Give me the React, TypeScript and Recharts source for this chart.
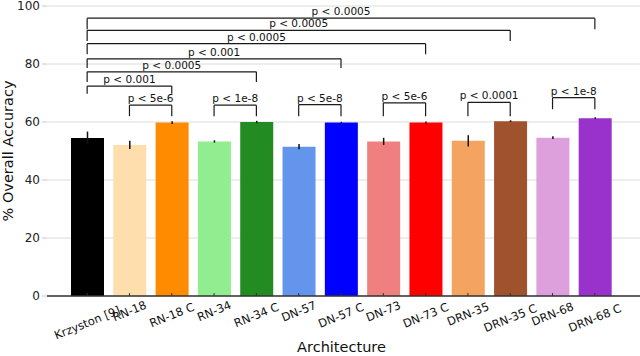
import React from "react";
import { BarChart, Bar, XAxis, YAxis, CartesianGrid, Cell, ErrorBar, ReferenceLine } from "recharts";

const architectures = [
  "Krzyston [9]", "RN-18", "RN-18 C", "RN-34", "RN-34 C", "DN-57", "DN-57 C",
  "DN-73", "DN-73 C", "DRN-35", "DRN-35 C", "DRN-68", "DRN-68 C",
];
const accuracy = [54.5, 52.1, 59.8, 53.3, 60.0, 51.5, 59.8, 53.3, 59.8, 53.5, 60.3, 54.6, 61.3];
const accuracyErr = [2.2, 1.4, 0.5, 0.4, 0.4, 0.9, 0.3, 1.25, 0.4, 1.95, 0.3, 0.5, 0.3];
const barColors = [
  "#000000", "#FFDEAD", "#FF8C00", "#90EE90", "#228B22", "#6495ED", "#0000FF",
  "#F08080", "#FF0000", "#F4A460", "#A0522D", "#DDA0DD", "#9932CC",
];
const yTicks = [0, 20, 40, 60, 80, 100];

// significance brackets: from / to / line level / leg foot / text
const bracketFrom = [
  "Krzyston [9]", "Krzyston [9]", "Krzyston [9]", "Krzyston [9]", "Krzyston [9]", "Krzyston [9]",
  "RN-18", "RN-34", "DN-57", "DN-73", "DRN-35", "DRN-68",
];
const bracketTo = [
  "DRN-68 C", "DRN-35 C", "DN-73 C", "DN-57 C", "RN-34 C", "RN-18 C",
  "RN-18 C", "RN-34 C", "DN-57 C", "DN-73 C", "DRN-35 C", "DRN-68 C",
];
const bracketLevel = [95.8, 91.6, 87.0, 81.8, 77.3, 72.4, 65.8, 65.8, 66.0, 66.6, 66.8, 68.4];
const bracketFoot = [92.0, 87.9, 83.4, 78.6, 73.8, 69.7, 62.0, 62.0, 62.0, 62.0, 62.0, 64.4];
const bracketText = [
  "p < 0.0005", "p < 0.0005", "p < 0.0005", "p < 0.001", "p < 0.0005", "p < 0.001",
  "p < 5e-6", "p < 1e-8", "p < 5e-8", "p < 5e-6", "p < 0.0001", "p < 1e-8",
];

const data = architectures.map((name, i) => ({ name, acc: accuracy[i], err: accuracyErr[i] }));

// rough DejaVu Sans advance widths (em)
const widths: Record<string, number> = {
  A: 0.684, C: 0.698, D: 0.77, K: 0.656, N: 0.748, R: 0.695,
  a: 0.613, c: 0.55, e: 0.615, n: 0.634, o: 0.612, r: 0.411, s: 0.521, t: 0.392, y: 0.592, z: 0.525,
  "-": 0.361, " ": 0.318, "[": 0.39, "]": 0.39,
};
const textWidth = (s: string, size: number) =>
  s.split("").reduce((w, ch) => w + (widths[ch] ?? (/[0-9]/.test(ch) ? 0.636 : 0.6)), 0) * size;

function ArchTick({ x, y, payload }: any) {
  const fs = 11.5;
  const cy = y + 3 + 0.34 * textWidth(payload.value, fs);
  return (
    <g>
      <line x1={x} y1={y} x2={x} y2={y - 3} stroke="#333" />
      <text x={x} y={cy} dy="0.35em" textAnchor="middle" fontSize={fs} fill="#111"
        transform={`rotate(-22, ${x}, ${cy})`}>
        {payload.value}
      </text>
    </g>
  );
}

function YTitle({ viewBox }: any) {
  const cx = viewBox.x + 7.5;
  const cy = viewBox.y + viewBox.height / 2;
  return (
    <text x={cx} y={cy} dy="0.35em" textAnchor="middle" fontSize={14.5} fill="#111"
      transform={`rotate(-90, ${cx}, ${cy})`}>
      % Overall Accuracy
    </text>
  );
}

function XTitle({ viewBox }: any) {
  return (
    <text x={viewBox.x + viewBox.width / 2 - 2} y={viewBox.y + viewBox.height - 4}
      textAnchor="middle" fontSize={14.5} fill="#111">
      Architecture
    </text>
  );
}

export default function App() {
  const lineStyle = { stroke: "#1a1a1a", strokeWidth: 1.2 };
  return (
    <div style={{ position: "absolute", left: 0, top: 0, fontFamily: "DejaVu Sans", background: "#fff" }}>
      <BarChart width={640} height={356} data={data} margin={{ top: 6, right: 0, bottom: 0, left: 0 }}>
        <CartesianGrid vertical={false} stroke="#dcdcdc" />
        <XAxis dataKey="name" interval={0} height={60} tickLine={false} tickSize={0} tickMargin={0}
          axisLine={{ stroke: "#333", strokeWidth: 1.3 }} padding={{ left: 19, right: 24 }}
          tick={<ArchTick />} label={XTitle} />
        <YAxis domain={[0, 100]} ticks={yTicks} interval={0} width={47} axisLine={false}
          tickLine={{ stroke: "#c8c8c8" }} tickSize={5} tickMargin={2}
          tick={{ fontSize: 12, fill: "#222" }} label={YTitle} />
        <Bar dataKey="acc" barSize={33} isAnimationActive={false}>
          {data.map((d, i) => (
            <Cell key={d.name} fill={barColors[i]} />
          ))}
          <ErrorBar dataKey="err" width={0} stroke="#111" strokeWidth={1.5} direction="y" isAnimationActive={false} />
        </Bar>
        {bracketText.map((txt, i) => [
          <ReferenceLine key={`h${i}`} {...lineStyle}
            segment={[{ x: bracketFrom[i], y: bracketLevel[i] }, { x: bracketTo[i], y: bracketLevel[i] }]}
            label={{ value: txt, position: "top", offset: 3, fontSize: 10.5, fill: "#111" }} />,
          <ReferenceLine key={`l${i}`} {...lineStyle}
            segment={[{ x: bracketFrom[i], y: bracketLevel[i] }, { x: bracketFrom[i], y: bracketFoot[i] }]} />,
          <ReferenceLine key={`r${i}`} {...lineStyle}
            segment={[{ x: bracketTo[i], y: bracketLevel[i] }, { x: bracketTo[i], y: bracketFoot[i] }]} />,
        ])}
      </BarChart>
    </div>
  );
}
